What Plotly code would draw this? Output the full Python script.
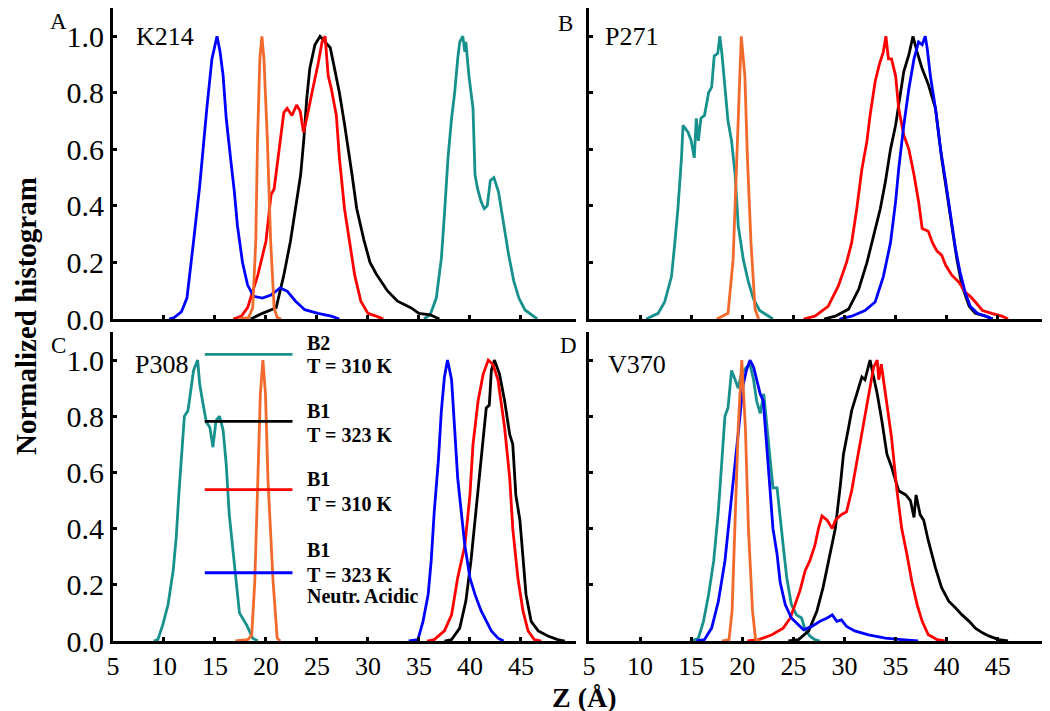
import plotly.graph_objects as go

# ---- data (Z in Angstrom, normalized histogram) ----
# panel A : K214
a_teal_x = [35.5, 36.1, 36.7, 37.2, 37.5, 37.85, 38.2, 38.5, 38.8, 39.0, 39.3, 39.5, 39.6, 39.9, 40.3, 40.5,
            40.75, 41.1, 41.4, 41.7, 42.0, 42.35, 42.8, 43.3, 43.8, 44.3, 44.8, 45.4, 46.1, 46.6]
a_teal_y = [0.0, 0.015, 0.074, 0.215, 0.37, 0.57, 0.71, 0.8, 0.92, 0.98, 1.0, 0.945, 0.98, 0.86, 0.745, 0.51,
            0.46, 0.415, 0.39, 0.4, 0.49, 0.5, 0.45, 0.33, 0.226, 0.134, 0.074, 0.032, 0.015, 0.0]
a_black_x = [18.5, 19.65, 21.0, 21.75, 22.4, 22.9, 23.4, 23.7, 24.0, 24.3, 24.8, 25.3, 25.8, 26.3, 26.7, 27.2,
             27.7, 28.1, 28.4, 28.9, 29.6, 30.2, 30.8, 31.9, 32.9, 34.2, 35.0, 36.1, 37.0]
a_black_y = [0.0, 0.02, 0.04, 0.155, 0.275, 0.39, 0.51, 0.63, 0.78, 0.887, 0.97, 1.0, 0.98, 0.96, 0.89, 0.8,
             0.69, 0.6, 0.52, 0.39, 0.28, 0.2, 0.16, 0.1, 0.063, 0.04, 0.02, 0.015, 0.0]
a_red_x = [16.8, 17.6, 18.2, 19.2, 20.0, 20.5, 20.8, 21.3, 21.75, 22.07, 22.55, 23.0, 23.36, 23.68, 24.0, 24.6,
           25.1, 25.5, 25.8, 26.1, 26.4, 26.9, 27.2, 27.7, 28.2, 28.7, 29.3, 30.0, 30.8, 31.5]
a_red_y = [0.0, 0.01, 0.04, 0.155, 0.275, 0.44, 0.46, 0.6, 0.73, 0.745, 0.72, 0.757, 0.735, 0.66, 0.71, 0.816,
           0.9, 0.98, 1.0, 0.86, 0.816, 0.72, 0.57, 0.39, 0.275, 0.155, 0.063, 0.02, 0.01, 0.0]
a_blue_x = [10.5, 11.0, 11.7, 12.25, 12.9, 13.5, 14.2, 14.7, 15.2, 15.5, 15.8, 16.1, 16.6, 16.9, 17.2, 17.7,
            18.2, 18.8, 19.65, 20.5, 21.4, 22.1, 22.9, 23.8, 25.1, 26.4, 27.2]
a_blue_y = [0.0, 0.005, 0.025, 0.074, 0.275, 0.47, 0.745, 0.92, 1.0, 0.945, 0.86, 0.71, 0.545, 0.45, 0.33, 0.2,
            0.12, 0.08, 0.074, 0.085, 0.11, 0.098, 0.063, 0.033, 0.02, 0.01, 0.0]
a_orange_x = [17.3, 18.3, 18.7, 19.0, 19.17, 19.4, 19.6, 19.8, 20.14, 20.46, 20.8, 21.1, 21.5]
a_orange_y = [0.0, 0.005, 0.04, 0.275, 0.63, 0.92, 1.0, 0.92, 0.63, 0.275, 0.04, 0.005, 0.0]

# panel B : P271
b_teal_x = [10.6, 11.76, 12.4, 13.07, 13.4, 13.7, 14.05, 14.2, 14.7, 15.0, 15.3, 15.5, 15.7, 15.95, 16.3, 16.7,
            17.0, 17.25, 17.6, 17.8, 18.0, 18.3, 18.6, 18.95, 19.3, 19.6, 20.1, 20.6, 21.1, 21.7, 22.5, 23.0]
b_teal_y = [0.0, 0.02, 0.06, 0.15, 0.27, 0.39, 0.57, 0.685, 0.66, 0.63, 0.57, 0.71, 0.63, 0.71, 0.72, 0.8,
            0.82, 0.93, 0.94, 1.0, 0.94, 0.82, 0.7, 0.63, 0.51, 0.33, 0.21, 0.13, 0.07, 0.03, 0.01, 0.0]
b_black_x = [28.0, 29.1, 30.4, 31.4, 32.2, 32.8, 33.5, 34.0, 34.5, 35.0, 35.5, 35.8, 36.3, 36.7, 37.1, 37.6,
             38.2, 38.9, 39.5, 40.0, 40.5, 41.0, 41.5, 42.2, 42.8, 43.8, 44.5]
b_black_y = [0.0, 0.01, 0.035, 0.106, 0.2, 0.29, 0.39, 0.485, 0.6, 0.685, 0.8, 0.875, 0.935, 1.0, 0.945, 0.885,
             0.83, 0.745, 0.57, 0.45, 0.33, 0.21, 0.117, 0.045, 0.02, 0.01, 0.0]
b_red_x = [26.0, 27.1, 28.4, 29.4, 30.2, 30.7, 31.2, 31.7, 32.2, 32.5, 33.0, 33.4, 33.8, 34.05, 34.3, 34.6,
           35.0, 35.3, 35.8, 36.3, 36.8, 37.25, 37.6, 38.2, 38.6, 39.05, 39.5, 39.9, 40.5, 41.2, 41.8, 42.3,
           42.8, 43.5, 44.4, 45.4, 46.0]
b_red_y = [0.0, 0.01, 0.045, 0.117, 0.2, 0.27, 0.39, 0.53, 0.63, 0.72, 0.84, 0.9, 0.945, 1.0, 0.92, 0.92,
           0.86, 0.745, 0.65, 0.6, 0.51, 0.415, 0.32, 0.31, 0.27, 0.24, 0.226, 0.19, 0.155, 0.13, 0.095, 0.08,
           0.06, 0.03, 0.02, 0.01, 0.0]
b_blue_x = [29.5, 30.7, 32.0, 33.0, 33.8, 34.5, 35.0, 35.3, 35.8, 36.3, 36.8, 37.25, 37.6, 37.9, 38.1, 38.4,
            38.9, 39.4, 39.9, 40.4, 40.85, 41.3, 41.8, 42.3, 43.0, 43.8, 44.5]
b_blue_y = [0.0, 0.01, 0.03, 0.06, 0.15, 0.27, 0.415, 0.53, 0.685, 0.815, 0.92, 0.98, 0.97, 1.0, 0.955, 0.86,
            0.745, 0.6, 0.485, 0.365, 0.25, 0.167, 0.095, 0.045, 0.02, 0.01, 0.0]
b_orange_x = [17.5, 18.6, 19.1, 19.4, 19.7, 19.9, 20.25, 20.5, 20.85, 21.25, 21.6]
b_orange_y = [0.0, 0.02, 0.21, 0.51, 0.8, 1.0, 0.86, 0.57, 0.27, 0.035, 0.0]

# panel C : P308
c_teal_x = [9.0, 9.4, 9.9, 10.4, 10.9, 11.2, 11.5, 11.9, 12.0, 12.35, 12.7, 12.9, 13.3, 13.5, 13.8, 14.15,
            14.5, 14.8, 15.1, 15.45, 15.8, 16.1, 16.4, 16.9, 17.4, 18.1, 18.7, 19.2]
c_teal_y = [0.0, 0.005, 0.06, 0.13, 0.25, 0.37, 0.545, 0.725, 0.8, 0.82, 0.905, 0.963, 1.0, 0.915, 0.85, 0.78,
            0.76, 0.69, 0.785, 0.8, 0.75, 0.63, 0.45, 0.27, 0.1, 0.057, 0.01, 0.0]
c_black_x = [37.5, 38.2, 39.0, 39.6, 40.1, 40.6, 41.1, 41.6, 41.9, 42.1, 42.4, 42.9, 43.4, 43.9, 44.2, 44.5,
             44.9, 45.2, 45.5, 46.0, 46.7, 47.65, 48.6, 49.3]
c_black_y = [0.0, 0.005, 0.046, 0.142, 0.285, 0.464, 0.64, 0.83, 0.84, 0.963, 1.0, 0.95, 0.855, 0.735, 0.7, 0.52,
             0.43, 0.285, 0.165, 0.07, 0.036, 0.018, 0.005, 0.0]
c_red_x = [35.8, 36.5, 37.5, 38.2, 38.8, 39.5, 40.0, 40.3, 40.8, 41.3, 41.8, 42.25, 42.75, 43.4, 43.9, 44.2,
           44.7, 45.2, 45.7, 46.3, 47.0]
c_red_y = [0.0, 0.005, 0.036, 0.093, 0.225, 0.34, 0.52, 0.7, 0.855, 0.95, 1.0, 0.985, 0.93, 0.76, 0.58, 0.4,
           0.225, 0.107, 0.036, 0.005, 0.0]
c_blue_x = [34.0, 34.9, 35.4, 35.9, 36.2, 36.5, 36.9, 37.2, 37.5, 37.8, 38.2, 38.5, 38.8, 39.15, 39.5, 40.0,
            40.5, 41.1, 41.6, 42.1, 42.75, 43.3]
c_blue_y = [0.0, 0.005, 0.07, 0.165, 0.285, 0.46, 0.64, 0.82, 0.94, 1.0, 0.93, 0.76, 0.58, 0.46, 0.34, 0.225,
            0.165, 0.107, 0.07, 0.036, 0.01, 0.0]
c_orange_x = [17.0, 18.2, 18.6, 18.9, 19.2, 19.45, 19.7, 19.95, 20.2, 20.7, 21.1, 21.4]
c_orange_y = [0.0, 0.005, 0.02, 0.21, 0.57, 0.88, 1.0, 0.88, 0.57, 0.21, 0.01, 0.0]

# panel D : V370
d_teal_x = [15.0, 15.7, 16.2, 16.7, 17.2, 17.65, 18.0, 18.3, 18.6, 18.95, 19.3, 19.6, 19.9, 20.4, 20.75, 21.1,
            21.4, 21.75, 22.1, 22.4, 22.7, 23.0, 23.4, 23.7, 24.0, 24.35, 24.8, 25.3, 25.8, 26.1, 26.6, 27.1, 27.6]
d_teal_y = [0.0, 0.01, 0.07, 0.165, 0.285, 0.46, 0.64, 0.8, 0.83, 0.963, 0.93, 0.9, 0.95, 0.975, 0.985, 0.93,
            0.855, 0.81, 0.88, 0.76, 0.64, 0.545, 0.545, 0.43, 0.34, 0.225, 0.13, 0.093, 0.082, 0.046, 0.018, 0.005, 0.0]
d_black_x = [24.5, 25.5, 26.5, 27.3, 27.9, 28.6, 29.1, 29.6, 29.9, 30.4, 30.7, 31.2, 31.7, 32.0, 32.5, 32.85,
             33.2, 33.65, 34.15, 34.6, 35.3, 36.0, 36.45, 36.8, 37.0, 37.4, 37.75, 38.2, 38.9, 39.5, 40.2, 40.85,
             41.5, 42.2, 42.8, 43.5, 44.1, 45.1, 46.0]
d_black_y = [0.0, 0.005, 0.036, 0.107, 0.19, 0.31, 0.4, 0.557, 0.665, 0.76, 0.82, 0.88, 0.94, 0.93, 1.0, 0.94,
             0.88, 0.785, 0.665, 0.62, 0.535, 0.52, 0.5, 0.44, 0.52, 0.45, 0.43, 0.357, 0.26, 0.19, 0.142, 0.118,
             0.093, 0.07, 0.046, 0.029, 0.018, 0.005, 0.0]
d_red_x = [20.5, 21.6, 22.9, 24.0, 24.7, 25.2, 25.65, 26.15, 26.6, 27.1, 27.45, 27.8, 28.3, 28.8, 29.1, 29.7,
           30.2, 30.7, 31.2, 31.7, 32.2, 32.5, 32.85, 33.2, 33.35, 33.6, 34.0, 34.3, 34.6, 35.1, 35.6, 36.1,
           36.6, 37.1, 37.6, 38.2, 39.05, 39.8]
d_red_y = [0.0, 0.005, 0.022, 0.046, 0.082, 0.13, 0.18, 0.25, 0.285, 0.34, 0.4, 0.445, 0.43, 0.4, 0.43, 0.45,
           0.46, 0.535, 0.64, 0.735, 0.84, 0.9, 0.975, 1.0, 0.93, 0.985, 0.88, 0.785, 0.725, 0.545, 0.4, 0.31,
           0.21, 0.13, 0.07, 0.022, 0.005, 0.0]
d_blue_x = [15.5, 16.3, 17.0, 17.65, 18.3, 18.8, 19.1, 19.45, 19.8, 20.1, 20.4, 20.75, 21.1, 21.4, 21.75, 22.05,
            22.4, 22.7, 23.0, 23.4, 23.7, 24.2, 24.8, 25.5, 26.0, 26.8, 27.6, 28.3, 28.8, 29.25, 29.7, 30.2,
            31.0, 32.35, 34.0, 35.6, 37.2]
d_blue_y = [0.0, 0.005, 0.046, 0.14, 0.285, 0.46, 0.58, 0.7, 0.82, 0.915, 0.963, 1.0, 0.975, 0.93, 0.88, 0.855,
            0.7, 0.545, 0.4, 0.31, 0.21, 0.13, 0.082, 0.057, 0.04, 0.052, 0.07, 0.082, 0.093, 0.07, 0.075, 0.052,
            0.036, 0.022, 0.01, 0.005, 0.0]
d_orange_x = [18.0, 18.7, 19.0, 19.3, 19.6, 19.95, 20.3, 20.6, 21.0, 21.3, 21.8]
d_orange_y = [0.0, 0.005, 0.107, 0.4, 0.76, 1.0, 0.76, 0.4, 0.107, 0.005, 0.0]

# legend (drawn inside panel C)
legend_x = [14.0, 22.6]
legend_y = [1.02, 0.782, 0.539, 0.243]
legend_text_x = 23.8
legend_lines = [("B2", 1.06), ("T = 310 K", 0.98),
                ("B1", 0.818), ("T = 323 K", 0.732),
                ("B1", 0.575), ("T = 310 K", 0.489),
                ("B1", 0.325), ("T = 323 K", 0.236), ("Neutr. Acidic", 0.161)]

x_ticks = [5, 10, 15, 20, 25, 30, 35, 40, 45]
y_ticks = [0.0, 0.2, 0.4, 0.6, 0.8, 1.0]
panel_names = ["K214", "P271", "P308", "V370"]
panel_letters = ["A", "B", "C", "D"]

TEAL = "#17918d"
ORANGE = "#f26a2b"
BLUE = "#0000ff"
RED = "#ff0000"
BLACK = "#000000"
FONT = "Liberation Serif"

panels = [
    ("x", "y", [(a_teal_x, a_teal_y, TEAL), (a_black_x, a_black_y, BLACK), (a_red_x, a_red_y, RED),
                (a_blue_x, a_blue_y, BLUE), (a_orange_x, a_orange_y, ORANGE)]),
    ("x2", "y2", [(b_teal_x, b_teal_y, TEAL), (b_black_x, b_black_y, BLACK), (b_red_x, b_red_y, RED),
                  (b_blue_x, b_blue_y, BLUE), (b_orange_x, b_orange_y, ORANGE)]),
    ("x3", "y3", [(c_teal_x, c_teal_y, TEAL), (c_black_x, c_black_y, BLACK), (c_red_x, c_red_y, RED),
                  (c_blue_x, c_blue_y, BLUE), (c_orange_x, c_orange_y, ORANGE)]),
    ("x4", "y4", [(d_teal_x, d_teal_y, TEAL), (d_black_x, d_black_y, BLACK), (d_red_x, d_red_y, RED),
                  (d_blue_x, d_blue_y, BLUE), (d_orange_x, d_orange_y, ORANGE)]),
]

fig = go.Figure()
for xa, ya, curves in panels:
    for xs, ys, col in curves:
        fig.add_trace(go.Scatter(x=xs, y=ys, mode="lines", xaxis=xa, yaxis=ya,
                                 line=dict(color=col, width=2.8), hoverinfo="skip"))

for ly, col in zip(legend_y, [TEAL, BLACK, RED, BLUE]):
    fig.add_trace(go.Scatter(x=legend_x, y=[ly, ly], mode="lines", xaxis="x3", yaxis="y3",
                             line=dict(color=col, width=2.8), hoverinfo="skip"))

# layout geometry (pixels -> domains)
L, R, T, B = 105, 5, 0, 78
W, H = 1050, 711
pw, ph = W - L - R, H - T - B
x_left = [0, (568 - L) / pw]
x_right = [(581 - L) / pw, 1]
y_top = [(633 - 311) / ph, 1]
y_bot = [0, (633 - 324) / ph]

common = dict(showline=True, linewidth=3, linecolor="black", ticks="inside", ticklen=4, tickwidth=2.5,
              tickcolor="black", showgrid=False, zeroline=False, mirror=False)
xfont = dict(family=FONT, size=26, color="black")
yfont = dict(family=FONT, size=30, color="black")

fig.update_layout(
    width=W, height=H, margin=dict(l=L, r=R, t=T, b=B),
    paper_bgcolor="white", plot_bgcolor="white", showlegend=False,
    xaxis=dict(domain=x_left, range=[5, 50.4], anchor="y", tickvals=x_ticks, showticklabels=False, **common),
    xaxis2=dict(domain=x_right, range=[5, 50.4], anchor="y2", tickvals=x_ticks, showticklabels=False, **common),
    xaxis3=dict(domain=x_left, range=[5, 50.4], anchor="y3", tickvals=x_ticks, tickfont=xfont, **common),
    xaxis4=dict(domain=x_right, range=[5, 50.4], anchor="y4", tickvals=x_ticks, tickfont=xfont, **common),
    yaxis=dict(domain=y_top, range=[0, 1.1], anchor="x", tickvals=y_ticks, tickformat=".1f",
               tickfont=yfont, **common),
    yaxis2=dict(domain=y_top, range=[0, 1.1], anchor="x2", tickvals=y_ticks, showticklabels=False, **common),
    yaxis3=dict(domain=y_bot, range=[0, 1.1], anchor="x3", tickvals=y_ticks, tickformat=".1f",
                tickfont=yfont, **common),
    yaxis4=dict(domain=y_bot, range=[0, 1.1], anchor="x4", tickvals=y_ticks, showticklabels=False, **common),
)


def px_x(p):
    return (p - L) / pw


def px_y(p):
    return (H - B - p) / ph


annotations = []
# panel letters
for letter, (cx, cy) in zip(panel_letters, [(50, 14), (557, 16), (50, 337), (560, 337)]):
    annotations.append(dict(text=letter, x=px_x(cx), y=px_y(cy), xref="paper", yref="paper",
                            xanchor="center", yanchor="middle",
                            showarrow=False, font=dict(family=FONT, size=23, color="black")))
# residue names
for name, xa, ya, nx, ny in zip(panel_names, ["x", "x2", "x3", "x4"], ["y", "y2", "y3", "y4"],
                                [7.1, 6.4, 7.0, 6.7], [1.0, 1.0, 0.986, 0.986]):
    annotations.append(dict(text=name, x=nx, y=ny, xref=xa, yref=ya, xanchor="left", yanchor="middle",
                            showarrow=False, font=dict(family=FONT, size=26, color="black")))
# legend text
for txt, ty in legend_lines:
    annotations.append(dict(text="<b>%s</b>" % txt, x=legend_text_x, y=ty, xref="x3", yref="y3",
                            xanchor="left", yanchor="middle", showarrow=False,
                            font=dict(family=FONT, size=20, color="black")))
# axis titles
annotations.append(dict(text="<b>Normalized histogram</b>", x=px_x(18), y=px_y(308), xref="paper", yref="paper",
                        xanchor="center", yanchor="middle",
                        textangle=-90, showarrow=False, font=dict(family=FONT, size=29, color="black")))
annotations.append(dict(text="<b>Z (Å)</b>", x=px_x(576), y=px_y(689), xref="paper", yref="paper",
                        xanchor="center", yanchor="middle",
                        showarrow=False, font=dict(family=FONT, size=28, color="black")))
fig.update_layout(annotations=annotations)

fig.write_html("out.html")
